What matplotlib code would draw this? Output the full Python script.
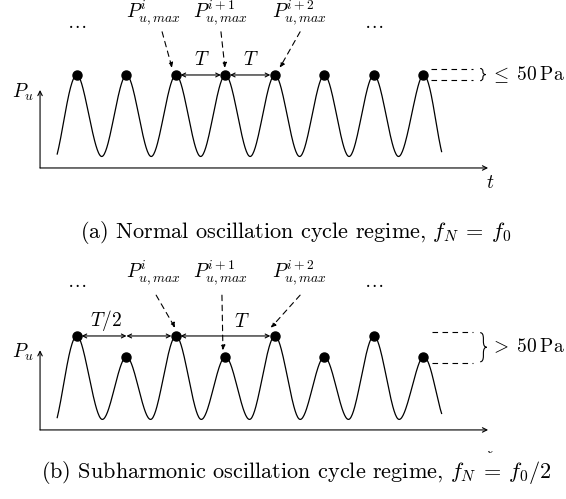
import numpy as np
import matplotlib
matplotlib.use("Agg")
import matplotlib.pyplot as plt
from matplotlib.path import Path
from matplotlib.patches import PathPatch
from matplotlib.transforms import Bbox, TransformedBbox

plt.rcParams["font.family"] = "serif"
plt.rcParams["font.serif"] = ["cmr10"]
plt.rcParams["mathtext.fontset"] = "cm"
plt.rcParams["lines.scale_dashes"] = False

# peak times (in periods T) and peak heights (normalised pressure)
peak_times = [0, 1, 2, 3, 4, 5, 6, 7]
peaks_a = [1, 1, 1, 1, 1, 1, 1, 1]
peaks_b = [1, 0.75, 1, 0.75, 1, 0.75, 1, 0.75]
trough_times = [0.5, 1.5, 2.5, 3.5, 4.5, 5.5, 6.5]
troughs = [0, 0, 0, 0, 0, 0, 0]
t_start, t_end = -0.40, 7.37
start_a, end_a = 0.03, 0.06
start_b, end_b = 0.02, 0.07

captions = [r"(a) Normal oscillation cycle regime, $f_N\:=\:f_0$",
            r"(b) Subharmonic oscillation cycle regime, $f_N\:=\:f_0/2$"]
plabels = [r"$P^{i}_{u,max}$", r"$P^{i+1}_{u,max}$", r"$P^{i+2}_{u,max}$"]
limits = [r"$\leq\;50\:\mathrm{Pa}$", r"$>\;50\:\mathrm{Pa}$"]

FS = 14


def knots(peaks, p0, p1):
    ts = [t_start]
    ps = [p0]
    for k in range(len(peak_times)):
        ts.append(peak_times[k])
        ps.append(peaks[k])
        if k < len(trough_times):
            ts.append(trough_times[k])
            ps.append(troughs[k])
    ts.append(t_end)
    ps.append(p1)
    return np.array(ts, float), np.array(ps, float)


def smooth(ts, ps, n=40):
    # catmull-rom like curve through the knots
    pts = np.column_stack([ts, ps])
    m = np.zeros_like(pts)
    m[1:-1] = (pts[2:] - pts[:-2]) / 2
    m[0] = pts[1] - pts[0]
    m[-1] = pts[-1] - pts[-2]
    s = np.linspace(0, 1, n)[:, None]
    h00 = 2 * s**3 - 3 * s**2 + 1
    h10 = s**3 - 2 * s**2 + s
    h01 = -2 * s**3 + 3 * s**2
    h11 = s**3 - s**2
    segs = [h00 * pts[i] + h10 * m[i] + h01 * pts[i + 1] + h11 * m[i + 1]
            for i in range(len(pts) - 1)]
    c = np.vstack(segs)
    return c[:, 0], c[:, 1]


def brace(ax, x0, yb, yt, w, r):
    ym = (yb + yt) / 2
    xm = x0 + w / 2
    verts = [(x0, yt), (xm, yt), (xm, yt - r), (xm, ym + r), (xm, ym), (x0 + w, ym),
             (xm, ym), (xm, ym - r), (xm, yb + r), (xm, yb), (x0, yb)]
    codes = [Path.MOVETO, Path.CURVE3, Path.CURVE3, Path.LINETO, Path.CURVE3, Path.CURVE3,
             Path.CURVE3, Path.CURVE3, Path.LINETO, Path.CURVE3, Path.CURVE3]
    ax.add_patch(PathPatch(Path(verts, codes), fill=False, lw=0.8, color="black"))


dash = (0, (4, 3.2))
xlim = (-77 / 49.47, (566 - 77) / 49.47)

fig = plt.figure(figsize=(5.66, 4.99), dpi=100)
ax_a = fig.add_axes([0, 284 / 499, 1, 215 / 499])
ax_b = fig.add_axes([0, 0, 1, 249 / 499])
ax_a.set_xlim(xlim)
ax_b.set_xlim(xlim)
ax_a.set_ylim(-0.718, 1.920)
ax_b.set_ylim(-0.957, 2.032)

for ax, peaks, p0, p1, ax0 in [(ax_a, peaks_a, start_a, end_a, -0.141),
                               (ax_b, peaks_b, start_b, end_b, -0.128)]:
    ax.axis("off")
    ts, ps = knots(peaks, p0, p1)
    x, y = smooth(ts, ps)
    ax.plot(x, y, color="black", lw=0.9)
    ax.plot(peak_times, peaks, "o", color="black", ms=6.5)
    # axes arrows
    ax.annotate("", xy=(8.31, ax0), xytext=(-0.747, ax0),
                arrowprops=dict(arrowstyle="->", lw=0.8, shrinkA=0, shrinkB=0, mutation_scale=8))
    ax.annotate("", xy=(-0.747, ax0 + 0.957), xytext=(-0.747, ax0),
                arrowprops=dict(arrowstyle="->", lw=0.8, shrinkA=0, shrinkB=0, mutation_scale=8))
    ax.text(-0.87, ax0 + 0.93, r"$P_u$", fontsize=FS, ha="right", va="center")
    ax.text(0, ax0 + 1.78, r"$\ldots$", fontsize=FS, ha="center", va="center")
    ax.text(6, ax0 + 1.78, r"$\ldots$", fontsize=FS, ha="center", va="center")

# ---- panel (a)
for k, tx in zip(range(3), [1.54, 2.89, 4.49]):
    ax_a.text(tx, 1.76, plabels[k], fontsize=FS, ha="center", va="center")
for (x0, y0), (x1, y1) in [((1.72, 1.53), (1.92, 1.09)), ((2.91, 1.53), (2.99, 1.09)),
                           ((4.51, 1.53), (4.10, 1.09))]:
    ax_a.annotate("", xy=(x1, y1), xytext=(x0, y0),
                  arrowprops=dict(arrowstyle="-|>", lw=0.8, ls=dash, color="black",
                                  shrinkA=0, shrinkB=0, mutation_scale=7))
for k in [2, 3]:
    ax_a.annotate("", xy=(peak_times[k + 1], 1), xytext=(peak_times[k], 1),
                  arrowprops=dict(arrowstyle="<->", lw=0.8, shrinkA=3.3, shrinkB=3.3,
                                  mutation_scale=7))
    ax_a.text(peak_times[k] + 0.52, 1.18, r"$T$", fontsize=FS, ha="center", va="center")
for yy in [1.074, 0.939]:
    ax_a.plot([7.16, 8.0], [yy, yy], color="black", lw=0.8, ls=dash)
brace(ax_a, 8.15, 0.93, 1.08, 0.11, 0.035)
ax_a.text(8.35, 1.0, limits[0], fontsize=FS, ha="left", va="center")
ax_a.text(8.35, -0.33, r"$t$", fontsize=FS, ha="center", va="center")

# ---- panel (b)
for k, tx in zip(range(3), [1.54, 2.89, 4.49]):
    ax_b.text(tx, 1.76, plabels[k], fontsize=FS, ha="center", va="center")
for (x0, y0), (x1, y1) in [((1.60, 1.49), (1.98, 1.10)), ((2.93, 1.49), (2.95, 0.83)),
                           ((4.51, 1.49), (3.92, 1.10))]:
    ax_b.annotate("", xy=(x1, y1), xytext=(x0, y0),
                  arrowprops=dict(arrowstyle="-|>", lw=0.8, ls=dash, color="black",
                                  shrinkA=0, shrinkB=0, mutation_scale=7))
for k0, k1 in [(0, 1), (1, 2), (2, 4)]:
    ax_b.annotate("", xy=(peak_times[k1], 1), xytext=(peak_times[k0], 1),
                  arrowprops=dict(arrowstyle="<->", lw=0.8,
                                  shrinkA=3.3 if k0 != 1 else 0,
                                  shrinkB=3.3 if k1 != 1 else 0,
                                  mutation_scale=7))
ax_b.text(0.58, 1.19, r"$T/2$", fontsize=FS, ha="center", va="center")
ax_b.text(3.34, 1.17, r"$T$", fontsize=FS, ha="center", va="center")
for yy in [1.048, 0.676]:
    ax_b.plot([7.18, 8.01], [yy, yy], color="black", lw=0.8, ls=dash)
brace(ax_b, 8.15, 0.69, 1.04, 0.13, 0.07)
ax_b.text(8.35, 0.87, limits[1], fontsize=FS, ha="left", va="center")
# t label of lower panel is mostly hidden, only its foot shows
tb = ax_b.text(8.35, -0.345, r"$t$", fontsize=FS, ha="center", va="center", clip_on=True)
tb.set_clip_box(TransformedBbox(Bbox([[8.1, -0.7], [8.6, -0.38]]), ax_b.transData))

fig.text(296 / 566, 1 - 233 / 499, captions[0], fontsize=16, ha="center", va="center")
fig.text(296 / 566, 1 - 473 / 499, captions[1], fontsize=16, ha="center", va="center")

fig.savefig("out.png", dpi=100)
